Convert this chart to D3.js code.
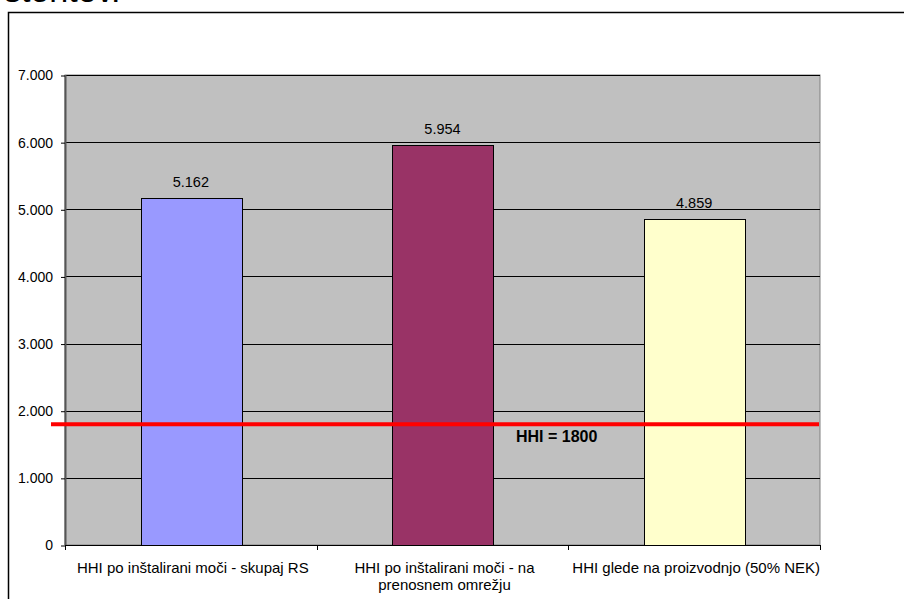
<!DOCTYPE html>
<html>
<head>
<meta charset="utf-8">
<script src="https://cdn.jsdelivr.net/npm/d3@7"></script>
<style>
  html, body { margin: 0; padding: 0; background: #fff; }
  svg { display: block; font-family: "Liberation Sans", Arial, sans-serif; }
</style>
</head>
<body>
<svg id="chart" width="904" height="599"></svg>
<script>
// HHI concentration index, three ways of measuring
const categories = [
  ["HHI po inštalirani moči - skupaj RS"],
  ["HHI po inštalirani moči - na", "prenosnem omrežju"],
  ["HHI glede na proizvodnjo (50% NEK)"]
];
const values = [5162, 5954, 4859];
const barColors = ["#9999FF", "#993366", "#FFFFCC"];
const yTicks = [0, 1000, 2000, 3000, 4000, 5000, 6000, 7000];
const threshold = 1800;
const thresholdLabel = "HHI = 1800";

const fmt = v => d3.format(",")(v).replace(/,/g, ".");

const svg = d3.select("#chart");

// heading line above the frame (runs off the top edge)
svg.append("text")
  .attr("x", 4).attr("y", 2)
  .attr("font-size", 34)
  .attr("fill", "#000")
  .text("storitev.");

// outer chart frame
svg.append("rect")
  .attr("x", 8.5).attr("y", 12.5)
  .attr("width", 1000).attr("height", 700)
  .attr("fill", "#fff")
  .attr("stroke", "#000")
  .attr("stroke-width", 1.5);

const plot = { left: 65, right: 820, top: 75, bottom: 545 };

const x = d3.scaleBand()
  .domain(d3.range(categories.length))
  .range([plot.left, plot.right])
  .paddingInner(0.6)
  .paddingOuter(0.3);

const xOuter = d3.scaleBand()
  .domain(d3.range(categories.length))
  .range([plot.left, plot.right]);

const y = d3.scaleLinear()
  .domain([0, 7000])
  .range([plot.bottom, plot.top]);

// plot background
svg.append("rect")
  .attr("x", plot.left).attr("y", plot.top)
  .attr("width", plot.right - plot.left)
  .attr("height", plot.bottom - plot.top)
  .attr("fill", "#C0C0C0")
  .attr("stroke", "#808080")
  .attr("stroke-width", 1);

// gridlines
svg.append("g")
  .selectAll("line")
  .data(yTicks.filter(t => t > 0))
  .join("line")
  .attr("x1", plot.left).attr("x2", plot.right)
  .attr("y1", d => Math.round(y(d)) + 0.5)
  .attr("y2", d => Math.round(y(d)) + 0.5)
  .attr("stroke", "#000")
  .attr("stroke-width", 1);

// left edge of plot area
svg.append("line")
  .attr("x1", plot.left + 0.5).attr("x2", plot.left + 0.5)
  .attr("y1", plot.top).attr("y2", plot.bottom)
  .attr("stroke", "#555")
  .attr("stroke-width", 2);

// bars
svg.append("g")
  .selectAll("rect")
  .data(values)
  .join("rect")
  .attr("x", (d, i) => Math.round(x(i)) + 0.5)
  .attr("y", d => Math.round(y(d)) + 0.5)
  .attr("width", Math.round(x.bandwidth()))
  .attr("height", d => Math.round(y(0)) - Math.round(y(d)))
  .attr("fill", (d, i) => barColors[i])
  .attr("stroke", "#000")
  .attr("stroke-width", 1);

// value labels
svg.append("g")
  .selectAll("text")
  .data(values)
  .join("text")
  .attr("x", (d, i) => x(i) + x.bandwidth() / 2)
  .attr("y", d => y(d) - 11)
  .attr("text-anchor", "middle")
  .attr("font-size", 14.5)
  .attr("fill", "#000")
  .text(d => fmt(d));

// y axis
const yAxis = d3.axisLeft(y)
  .tickValues(yTicks)
  .tickSize(4)
  .tickPadding(8)
  .tickFormat(fmt);

const gy = svg.append("g")
  .attr("transform", `translate(${plot.left},0.5)`)
  .call(yAxis);
gy.select(".domain").remove();
gy.selectAll(".tick line").attr("stroke", "#000");
gy.selectAll(".tick text")
  .attr("font-size", 14)
  .attr("font-family", "Liberation Sans, Arial, sans-serif")
  .attr("fill", "#000");

// x axis baseline and category separators
const gx = svg.append("g");
gx.append("line")
  .attr("x1", plot.left).attr("x2", plot.right + 1)
  .attr("y1", plot.bottom + 0.5).attr("y2", plot.bottom + 0.5)
  .attr("stroke", "#000");
gx.selectAll("line.sep")
  .data(d3.range(categories.length + 1))
  .join("line")
  .attr("class", "sep")
  .attr("x1", i => Math.round(i < categories.length ? xOuter(i) : plot.right) + 0.5)
  .attr("x2", i => Math.round(i < categories.length ? xOuter(i) : plot.right) + 0.5)
  .attr("y1", plot.bottom).attr("y2", plot.bottom + 5)
  .attr("stroke", "#000");

// category labels
const cat = svg.append("g")
  .selectAll("text")
  .data(categories)
  .join("text")
  .attr("x", (d, i) => xOuter(i) + xOuter.bandwidth() / 2 + 2)
  .attr("y", 573)
  .attr("text-anchor", "middle")
  .attr("font-size", 15)
  .attr("fill", "#000");
cat.selectAll("tspan")
  .data(d => d)
  .join("tspan")
  .attr("x", function () { return d3.select(this.parentNode).attr("x"); })
  .attr("dy", (d, i) => i === 0 ? 0 : 17)
  .text(d => d);

// threshold line
svg.append("line")
  .attr("x1", 51).attr("x2", plot.right - 1)
  .attr("y1", y(threshold)).attr("y2", y(threshold))
  .attr("stroke", "#FF0000")
  .attr("stroke-width", 4);

svg.append("text")
  .attr("x", 516)
  .attr("y", y(threshold) + 18)
  .attr("font-size", 16)
  .attr("font-weight", "bold")
  .attr("fill", "#000")
  .text(thresholdLabel);
</script>
</body>
</html>
